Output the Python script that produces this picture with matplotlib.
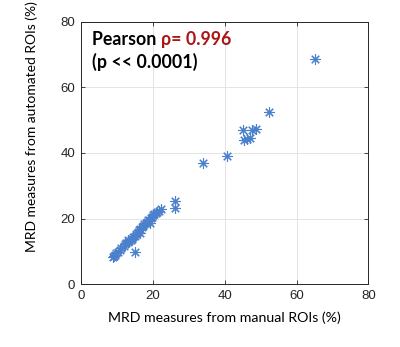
import matplotlib
matplotlib.use("Agg")
import matplotlib.pyplot as plt

manual = [9.0, 9.3, 9.6, 9.9, 10.3, 10.8, 11.3, 11.9, 12.3, 12.7, 13.1, 13.5, 13.9,
          14.2, 14.6, 15.0, 15.4, 15.8, 16.2, 16.6, 17.0, 17.3, 17.6, 18.0, 18.3,
          18.7, 19.0, 19.4, 19.8, 20.1, 20.5, 20.9, 21.3, 21.8, 22.2, 15.1,
          13.0, 16.5, 19.2, 26.2, 26.2, 34.1, 40.7, 45.2, 45.4, 46.3, 47.0, 47.5,
          48.6, 52.4, 65.1]
automated = [8.3, 8.7, 9.0, 9.5, 9.9, 10.4, 11.0, 11.6, 12.1, 12.6, 12.9, 13.3, 13.6,
             13.9, 14.3, 14.8, 15.3, 16.0, 16.4, 16.9, 17.3, 17.8, 18.2, 18.6, 19.0,
             19.4, 19.7, 20.2, 20.6, 21.0, 21.4, 21.7, 22.0, 22.4, 22.8, 9.9,
             13.5, 15.5, 18.5, 25.4, 23.1, 36.8, 39.1, 47.0, 43.9, 44.1, 44.4, 47.0,
             47.2, 52.3, 68.5]
ticks = [0, 20, 40, 60, 80]

fig = plt.figure(figsize=(4.0, 3.47), dpi=100)
ax = fig.add_axes([0.202, 0.181, 0.719, 0.757])
ax.plot(manual, automated, linestyle='none', marker=(8, 2, 0), markersize=7.5,
        markeredgewidth=0.8, color='#4a80cc', zorder=3)
ax.set_xlim(0, 80)
ax.set_ylim(0, 80)
ax.set_xticks(ticks)
ax.set_yticks(ticks)
ax.grid(True, color='#e4e4e4', linewidth=0.7)
ax.set_axisbelow(True)
for s in ax.spines.values():
    s.set_color('#262626')
    s.set_linewidth(0.7)
ax.tick_params(direction='in', length=3, width=0.6, color='#262626',
               top=True, right=True, labelsize=9.5, labelcolor='#262626', pad=4)
for lab in ax.get_xticklabels() + ax.get_yticklabels():
    lab.set_family('Liberation Sans')

ax.set_xlabel('MRD measures from manual ROIs (%)', family='Lato', fontsize=10.2,
              color='black', labelpad=7)
ax.set_ylabel('MRD measures from automated ROIs (%)', family='Lato', fontsize=10,
              color='black')
ax.yaxis.set_label_coords(-0.15, 0.6)

t1 = ax.text(0.04, 0.93, 'Pearson ', transform=ax.transAxes, family='Lato',
             fontweight='bold', fontsize=12.8, color='black', va='center', ha='left')
ax.annotate('\u03c1= 0.996', xy=(1, 0), xycoords=t1, va='bottom', ha='left',
            family='Lato', fontweight='bold', fontsize=12.8, color='#a81616')
ax.text(0.04, 0.845, '(p << 0.0001)', transform=ax.transAxes, family='Lato',
        fontweight='bold', fontsize=12.8, color='black', va='center', ha='left')

fig.savefig('out.png', dpi=100, facecolor='white')
